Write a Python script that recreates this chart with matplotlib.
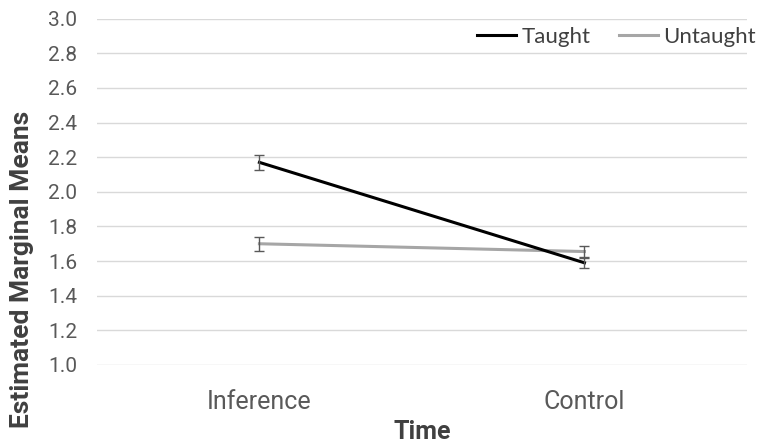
import matplotlib
matplotlib.use("Agg")
import matplotlib.pyplot as plt

categories = ["Inference", "Control"]
taught = [2.17, 1.59]
taught_err = [0.045, 0.03]
untaught = [1.70, 1.655]
untaught_err = [0.04, 0.03]
yticks = [1.0, 1.2, 1.4, 1.6, 1.8, 2.0, 2.2, 2.4, 2.6, 2.8, 3.0]

plt.rcParams['font.family'] = ['Roboto', 'DejaVu Sans']

fig = plt.figure(figsize=(7.63, 4.44), dpi=100)
ax = fig.add_axes([0.127, 0.178, 0.852, 0.78])
x = list(range(len(categories)))

ax.plot(x, taught, color='black', lw=2.2, label='Taught', zorder=3)
ax.plot(x, untaught, color='#a6a6a6', lw=2.2, label='Untaught', zorder=2)
ax.errorbar(x, taught, yerr=taught_err, fmt='none', ecolor='#595959', elinewidth=1, capsize=3.5, zorder=4)
ax.errorbar(x, untaught, yerr=untaught_err, fmt='none', ecolor='#595959', elinewidth=1, capsize=3.5, zorder=4)

ax.set_xlim(-0.5, 1.5)
ax.set_ylim(1.0, 3.0)
ax.set_yticks(yticks)
ax.set_yticklabels([f"{v:.1f}" for v in yticks])
ax.set_xticks(x)
ax.set_xticklabels(categories)
ax.grid(axis='y', color='#d9d9d9', lw=1)
ax.set_axisbelow(True)
for s in ax.spines.values():
    s.set_visible(False)
ax.tick_params(axis='both', length=0, colors='#595959')
ax.tick_params(axis='y', labelsize=15, pad=14)
ax.tick_params(axis='x', labelsize=18, pad=18)
ax.set_xlabel('Time', fontsize=18, fontweight='bold', color='#404040', labelpad=4)
ax.set_ylabel('Estimated Marginal Means', fontsize=19, fontweight='bold', color='#404040')
ax.yaxis.set_label_coords(-0.097, 0.275)

leg = ax.legend(loc='upper right', bbox_to_anchor=(1.045, 1.035), ncol=2, frameon=False,
                prop={'family': ['Lato', 'DejaVu Sans'], 'size': 16},
                handlelength=1.75, columnspacing=1.3, handletextpad=0.25)
for t in leg.get_texts():
    t.set_color('#404040')

fig.savefig('out.png', dpi=100)
